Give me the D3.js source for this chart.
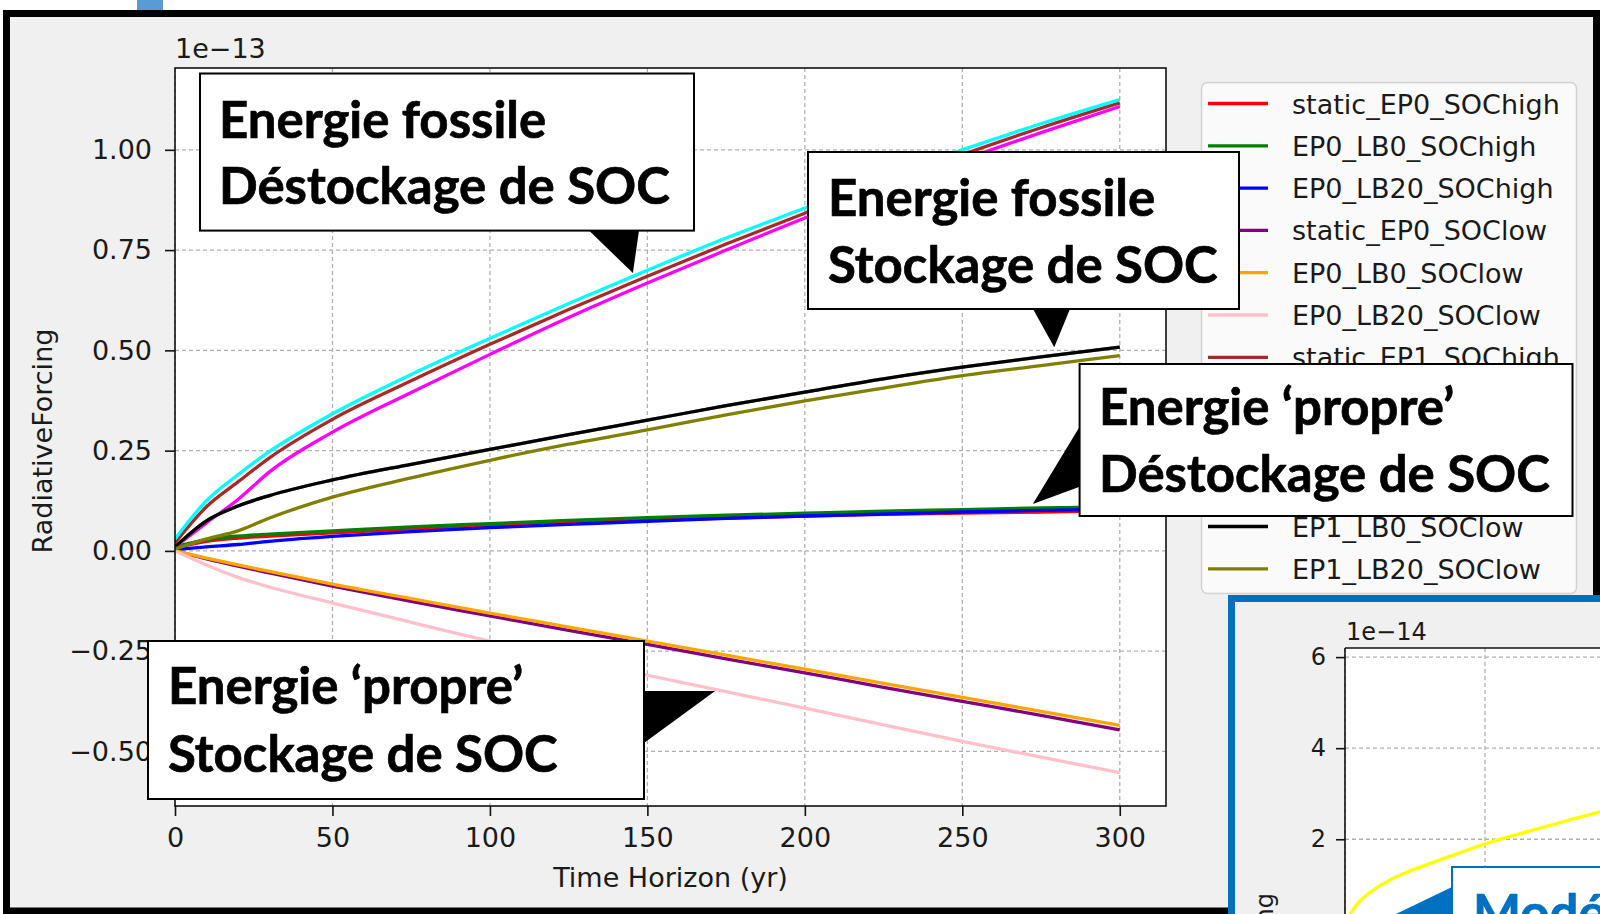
<!DOCTYPE html>
<html>
<head>
<meta charset="utf-8">
<script src="https://cdn.jsdelivr.net/npm/d3@7"></script>
<style>
  html, body { margin: 0; padding: 0; background: #fff; overflow: hidden; }
  svg { display: block; }
</style>
</head>
<body>
<svg id="fig" width="1600" height="914"></svg>
<script>
// ---- data (radiative forcing, units of 1e-13) ----
const years = [0, 10, 20, 30, 50, 75, 100, 125, 150, 175, 200, 225, 250, 275, 300];

const static_EP0_SOChigh = [0.008, 0.024, 0.032, 0.037, 0.045, 0.055, 0.064, 0.071, 0.077, 0.082, 0.087, 0.091, 0.094, 0.097, 0.100];
const EP0_LB0_SOChigh    = [0.010, 0.028, 0.037, 0.042, 0.050, 0.060, 0.068, 0.076, 0.083, 0.089, 0.094, 0.099, 0.103, 0.107, 0.110];
const EP0_LB20_SOChigh   = [0.003, 0.010, 0.016, 0.024, 0.036, 0.048, 0.058, 0.066, 0.074, 0.081, 0.087, 0.092, 0.097, 0.101, 0.104];
const static_EP0_SOClow  = [0, -0.020, -0.038, -0.055, -0.088, -0.126, -0.162, -0.198, -0.233, -0.269, -0.304, -0.340, -0.375, -0.410, -0.446];
const EP0_LB0_SOClow     = [0, -0.018, -0.035, -0.051, -0.083, -0.119, -0.155, -0.190, -0.225, -0.260, -0.295, -0.330, -0.365, -0.400, -0.435];
const EP0_LB20_SOClow    = [0, -0.035, -0.066, -0.090, -0.130, -0.178, -0.225, -0.268, -0.310, -0.351, -0.392, -0.434, -0.475, -0.514, -0.553];
const static_EP1_SOChigh = [0.020, 0.110, 0.172, 0.232, 0.328, 0.424, 0.515, 0.602, 0.685, 0.765, 0.842, 0.917, 0.988, 1.055, 1.117];
const EP1_LB0_SOChigh    = [0.030, 0.125, 0.190, 0.248, 0.342, 0.440, 0.530, 0.617, 0.700, 0.780, 0.855, 0.930, 1.000, 1.065, 1.125];
const EP1_LB20_SOChigh   = [0.010, 0.070, 0.128, 0.197, 0.296, 0.395, 0.490, 0.582, 0.668, 0.750, 0.830, 0.905, 0.975, 1.043, 1.108];
const static_EP1_SOClow  = [0.010, 0.075, 0.112, 0.138, 0.177, 0.216, 0.253, 0.290, 0.326, 0.362, 0.396, 0.429, 0.458, 0.484, 0.508];
const EP1_LB0_SOClow     = [0.010, 0.075, 0.112, 0.138, 0.177, 0.216, 0.253, 0.290, 0.326, 0.362, 0.396, 0.429, 0.458, 0.484, 0.508];
const EP1_LB20_SOClow    = [0.005, 0.030, 0.050, 0.082, 0.134, 0.182, 0.226, 0.266, 0.302, 0.339, 0.374, 0.406, 0.437, 0.462, 0.487];

const seriesNames = [
  "static_EP0_SOChigh", "EP0_LB0_SOChigh", "EP0_LB20_SOChigh",
  "static_EP0_SOClow", "EP0_LB0_SOClow", "EP0_LB20_SOClow",
  "static_EP1_SOChigh", "EP1_LB0_SOChigh", "EP1_LB20_SOChigh",
  "static_EP1_SOClow", "EP1_LB0_SOClow", "EP1_LB20_SOClow"
];
const seriesValues = [
  static_EP0_SOChigh, EP0_LB0_SOChigh, EP0_LB20_SOChigh,
  static_EP0_SOClow, EP0_LB0_SOClow, EP0_LB20_SOClow,
  static_EP1_SOChigh, EP1_LB0_SOChigh, EP1_LB20_SOChigh,
  static_EP1_SOClow, EP1_LB0_SOClow, EP1_LB20_SOClow
];

const xTicks = [0, 50, 100, 150, 200, 250, 300];
const yTicks = [-0.5, -0.25, 0, 0.25, 0.5, 0.75, 1.0];

// zoomed panel (units of 1e-14)
const insetYears  = [0, 2, 5, 10, 15, 20, 30, 40, 50, 60, 70, 80, 91];
const insetValues = [0, 0.36, 0.62, 0.88, 1.07, 1.22, 1.46, 1.68, 1.90, 2.08, 2.25, 2.42, 2.60];
const insetYTicks = [0, 2, 4, 6];
const insetXTicks = [0, 50, 100];

// ---- styles ----
const seriesColors = ["red", "green", "blue", "purple", "orange", "pink", "brown",
                      "cyan", "magenta", "gray", "black", "olive"];
const mplFont = "DejaVu Sans";
const txt = "#1a1a1a";

const svg = d3.select("#fig");

// page background, blue marker and black framed panel
svg.append("rect").attr("width", 1600).attr("height", 914).attr("fill", "#fff");
svg.append("rect").attr("x", 137).attr("y", 0).attr("width", 26).attr("height", 12).attr("fill", "#5b9bd5");
svg.append("rect").attr("x", 6.5).attr("y", 13.5).attr("width", 1590).attr("height", 897.5)
  .attr("fill", "#f0f0f0").attr("stroke", "#000").attr("stroke-width", 7);

// ---- main axes ----
const P = { x0: 175, x1: 1166, y0: 68, y1: 806 };
const x = d3.scaleLinear().domain([0, 315]).range([P.x0, P.x1 + 1]);
const y = d3.scaleLinear().domain([-0.636, 1.204]).range([P.y1, P.y0]);

const main = svg.append("g");
main.append("rect").attr("x", P.x0).attr("y", P.y0).attr("width", P.x1 - P.x0).attr("height", P.y1 - P.y0).attr("fill", "#fff");

main.append("defs").append("clipPath").attr("id", "plotClip")
  .append("rect").attr("x", P.x0).attr("y", P.y0).attr("width", P.x1 - P.x0).attr("height", P.y1 - P.y0);

// grid
const grid = main.append("g").attr("stroke", "#b0b0b0").attr("stroke-width", 1.3).attr("stroke-dasharray", "4,3");
grid.selectAll(".gx").data(xTicks).join("line")
  .attr("x1", d => x(d)).attr("x2", d => x(d)).attr("y1", P.y0).attr("y2", P.y1);
grid.selectAll(".gy").data(yTicks).join("line")
  .attr("y1", d => y(d)).attr("y2", d => y(d)).attr("x1", P.x0).attr("x2", P.x1);

// curves
const line = d3.line().x(d => x(d[0])).y(d => y(d[1])).curve(d3.curveMonotoneX);
const curves = main.append("g").attr("clip-path", "url(#plotClip)");
seriesValues.forEach((vals, i) => {
  curves.append("path")
    .datum(years.map((t, k) => [t, vals[k]]))
    .attr("d", line).attr("fill", "none")
    .attr("stroke", seriesColors[i]).attr("stroke-width", 3.3)
    .attr("stroke-linejoin", "round").attr("stroke-linecap", "butt");
});

// spines
main.append("rect").attr("x", P.x0).attr("y", P.y0).attr("width", P.x1 - P.x0).attr("height", P.y1 - P.y0)
  .attr("fill", "none").attr("stroke", "#111").attr("stroke-width", 1.6);

// axes
const xAxis = main.append("g").attr("transform", `translate(0,${P.y1})`)
  .call(d3.axisBottom(x).tickValues(xTicks).tickFormat(d3.format("d")).tickSize(10).tickPadding(12));
const yAxis = main.append("g").attr("transform", `translate(${P.x0},0)`)
  .call(d3.axisLeft(y).tickValues(yTicks).tickFormat(d3.format(".2f")).tickSize(10).tickPadding(13));
[xAxis, yAxis].forEach(a => {
  a.select(".domain").remove();
  a.selectAll("line").attr("stroke", "#111").attr("stroke-width", 1.6);
  a.selectAll("text").attr("font-family", mplFont).attr("font-size", 27).attr("fill", txt);
});

main.append("text").attr("x", P.x0).attr("y", 58).attr("font-family", mplFont).attr("font-size", 27)
  .attr("fill", txt).text("1e\u221213");
main.append("text").attr("x", (P.x0 + P.x1) / 2).attr("y", 887).attr("text-anchor", "middle")
  .attr("font-family", mplFont).attr("font-size", 27).attr("fill", txt).text("Time Horizon (yr)");
main.append("text").attr("transform", "translate(52,441) rotate(-90)").attr("text-anchor", "middle")
  .attr("font-family", mplFont).attr("font-size", 27).attr("fill", txt).text("RadiativeForcing");

// ---- legend ----
const lg = svg.append("g");
lg.append("rect").attr("x", 1201.5).attr("y", 82.5).attr("width", 375).attr("height", 511).attr("rx", 6)
  .attr("fill", "#fafafa").attr("stroke", "#d2d2d2").attr("stroke-width", 1.5);
seriesNames.forEach((n, i) => {
  const cy = 103.5 + i * 42.3;
  lg.append("line").attr("x1", 1208).attr("x2", 1268).attr("y1", cy).attr("y2", cy)
    .attr("stroke", seriesColors[i]).attr("stroke-width", 3.3);
  lg.append("text").attr("x", 1292).attr("y", cy + 10).attr("font-family", mplFont).attr("font-size", 27)
    .attr("fill", txt).text(n);
});

// ---- callout boxes ----
const ann = svg.append("g");
const probe = ann.append("text").attr("font-family", "Lato").attr("font-weight", 700).attr("font-size", 50).text("Déstockage de SOC");
const annSize = 50 * 451 / probe.node().getComputedTextLength();
probe.remove();

const callouts = [
  { box: [200, 73.5, 694, 230.6], lines: ["Energie fossile", "Déstockage de SOC"], tx: 219, base: [138, 204],
    wedge: [[589, 230.6], [639, 230.6]], tip: [145.4, 0.693] },
  { box: [808, 152, 1239, 309], lines: ["Energie fossile", "Stockage de SOC"], tx: 828, base: [216, 283],
    wedge: [[1033, 309], [1070, 309]], tip: [279.2, 0.508] },
  { box: [1079.6, 364, 1572.5, 516], lines: ["Energie \u2018propre\u2019", "Déstockage de SOC"], tx: 1099, base: [425, 492],
    wedge: [[1079.6, 426.7], [1079.6, 486.7]], tip: [272.4, 0.117] },
  { box: [148, 641, 644, 799], lines: ["Energie \u2018propre\u2019", "Stockage de SOC"], tx: 168, base: [704, 772],
    wedge: [[644, 691], [644, 743]], tip: [171.5, -0.349] }
];
callouts.forEach(c => {
  const [bx0, by0, bx1, by1] = c.box;
  ann.append("polygon")
    .attr("points", [c.wedge[0], [x(c.tip[0]), y(c.tip[1])], c.wedge[1]].map(p => p.join(",")).join(" "))
    .attr("fill", "#000");
  ann.append("rect").attr("x", bx0).attr("y", by0).attr("width", bx1 - bx0).attr("height", by1 - by0)
    .attr("fill", "#fff").attr("stroke", "#000").attr("stroke-width", 2);
  c.lines.forEach((s, k) => {
    ann.append("text").attr("x", c.tx).attr("y", c.base[k]).attr("font-family", "Lato").attr("font-weight", 700)
      .attr("font-size", annSize).attr("fill", "#000").attr("stroke", "#000").attr("stroke-width", 0.7)
      .text(s);
  });
});

// ---- zoomed panel in the lower right ----
const ins = svg.append("g");
ins.append("rect").attr("x", 1231.5).attr("y", 598.5).attr("width", 500).attr("height", 400)
  .attr("fill", "#f0f0f0").attr("stroke", "#0070c0").attr("stroke-width", 7);
const xi = d3.scaleLinear().domain([0, 315]).range([1345, 2227]);
const yi = d3.scaleLinear().domain([-0.3, 6.2]).range([944, 648]);
ins.append("rect").attr("x", 1345).attr("y", 648).attr("width", 900).attr("height", 400).attr("fill", "#fff");
const ig = ins.append("g").attr("stroke", "#b0b0b0").attr("stroke-width", 1.3).attr("stroke-dasharray", "4,3");
ig.selectAll(".a").data(insetXTicks).join("line").attr("x1", d => xi(d)).attr("x2", d => xi(d)).attr("y1", 648).attr("y2", 1000);
ig.selectAll(".b").data(insetYTicks).join("line").attr("y1", d => yi(d)).attr("y2", d => yi(d)).attr("x1", 1345).attr("x2", 1700);
const lineI = d3.line().x(d => xi(d[0])).y(d => yi(d[1])).curve(d3.curveMonotoneX);
ins.append("path").datum(insetYears.map((t, k) => [t, insetValues[k]]))
  .attr("d", lineI).attr("fill", "none").attr("stroke", "#ffff00").attr("stroke-width", 3.3);
ins.append("line").attr("x1", 1345).attr("x2", 1345).attr("y1", 648).attr("y2", 1000).attr("stroke", "#111").attr("stroke-width", 1.6);
ins.append("line").attr("x1", 1345).attr("x2", 1700).attr("y1", 648).attr("y2", 648).attr("stroke", "#111").attr("stroke-width", 1.6);
const yAxisI = ins.append("g").attr("transform", "translate(1345,0)")
  .call(d3.axisLeft(yi).tickValues(insetYTicks).tickFormat(d3.format("d")).tickSize(9).tickPadding(10));
yAxisI.select(".domain").remove();
yAxisI.selectAll("line").attr("stroke", "#111").attr("stroke-width", 1.6);
yAxisI.selectAll("text").attr("font-family", mplFont).attr("font-size", 24).attr("fill", txt);
ins.append("text").attr("x", 1346).attr("y", 640).attr("font-family", mplFont).attr("font-size", 24)
  .attr("fill", txt).text("1e\u221214");
ins.append("text").attr("transform", "translate(1273,893) rotate(-90)").attr("text-anchor", "end")
  .attr("font-family", mplFont).attr("font-size", 24).attr("fill", txt).text("RadiativeForcing");

// blue callout in the zoomed panel
ins.append("polygon").attr("points", "1452,887 1340,941 1452,935").attr("fill", "#0070c0");
ins.append("rect").attr("x", 1452).attr("y", 867).attr("width", 300).attr("height", 100)
  .attr("fill", "#fff").attr("stroke", "#0070c0").attr("stroke-width", 2);
ins.append("text").attr("x", 1473).attr("y", 931).attr("font-family", "Lato").attr("font-weight", 700)
  .attr("font-size", annSize).attr("fill", "#0070c0").attr("stroke", "#0070c0").attr("stroke-width", 0.7)
  .text("Modélisation");
</script>
</body>
</html>
